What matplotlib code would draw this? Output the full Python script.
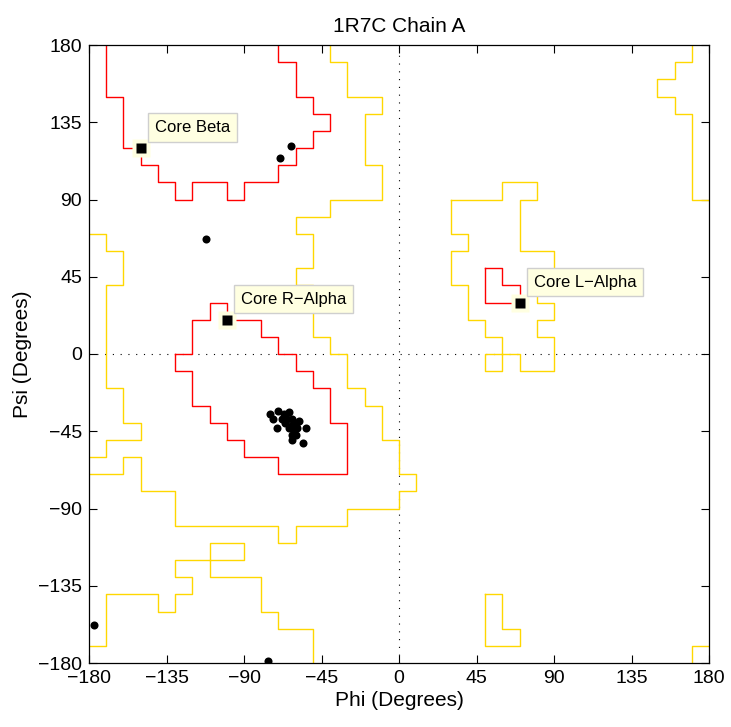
import matplotlib
matplotlib.use("Agg")
import matplotlib.pyplot as plt

plt.rcParams['font.family'] = ['Liberation Sans', 'DejaVu Sans']

# core (red) contours
core_beta_phi = [-170, -170, -160, -160, -150, -150, -140, -140, -130, -130, -120, -120, -100, -100, -90,
                 -90, -70, -70, -60, -60, -50, -50, -40, -40, -50, -50, -60, -60, -70, -70]
core_beta_psi = [180, 150, 150, 120, 120, 110, 110, 100, 100, 90, 90, 100, 100, 90, 90,
                 100, 100, 110, 110, 120, 120, 130, 130, 140, 140, 150, 150, 170, 170, 180]

core_ralpha_phi = [-130, -130, -120, -120, -110, -110, -100, -100, -90, -90, -70, -70, -30, -30, -40, -40,
                   -50, -50, -60, -60, -70, -70, -80, -80, -100, -100, -110, -110, -120, -120, -130]
core_ralpha_psi = [0, -10, -10, -30, -30, -40, -40, -50, -50, -60, -60, -70, -70, -40, -40, -20,
                   -20, -10, -10, 0, 0, 10, 10, 20, 20, 30, 30, 20, 20, 0, 0]

core_lalpha_phi = [50, 60, 60, 70, 70, 50, 50]
core_lalpha_psi = [50, 50, 40, 40, 30, 30, 50]

# allowed (yellow) contours
allowed_main_phi = [-40, -40, -30, -30, -10, -10, -20, -20, -10, -10, -40, -40, -60, -60, -50, -50, -60, -60,
                    -50, -50, -40, -40, -30, -30, -20, -20, -10, -10, 0, 0, 10, 10, 0, 0, -30, -30, -60, -60,
                    -70, -70, -130, -130, -150, -150, -160, -160, -180]
allowed_main_psi = [180, 170, 170, 150, 150, 140, 140, 110, 110, 90, 90, 80, 80, 70, 70, 50, 50, 40,
                    40, 10, 10, 0, 0, -20, -20, -30, -30, -50, -50, -70, -70, -80, -80, -90, -90, -100, -100, -110,
                    -110, -100, -100, -80, -80, -60, -60, -70, -70]

allowed_left_phi = [-180, -170, -170, -160, -160, -170, -170, -160, -160, -150, -150, -170, -170, -180]
allowed_left_psi = [70, 70, 60, 60, 40, 40, -20, -20, -40, -40, -50, -50, -60, -60]

allowed_bottom_phi = [-180, -170, -170, -140, -140, -130, -130, -120, -120, -130, -130, -90, -90, -110, -110,
                      -80, -80, -70, -70, -50, -50]
allowed_bottom_psi = [-170, -170, -140, -140, -150, -150, -140, -140, -130, -130, -120, -120, -110, -110, -130,
                      -130, -150, -150, -160, -160, -180]

allowed_lalpha_phi = [30, 30, 40, 40, 30, 30, 40, 40, 50, 50, 60, 60, 50, 50, 70, 70, 90, 90, 80, 80, 90, 90,
                      80, 80, 90, 90, 70, 70, 80, 80, 60, 60, 30]
allowed_lalpha_psi = [90, 70, 70, 60, 60, 40, 40, 20, 20, 10, 10, -10, -10, 0, 0, -10, -10, 10, 10, 20, 20, 30,
                      30, 40, 40, 60, 60, 90, 90, 100, 100, 90, 90]

allowed_topright_phi = [170, 170, 160, 160, 150, 150, 160, 160, 170, 170, 180]
allowed_topright_psi = [180, 170, 170, 160, 160, 150, 150, 140, 140, 90, 90]

allowed_botright_phi = [170, 170, 180]
allowed_botright_psi = [-180, -170, -170]

allowed_small_phi = [50, 60, 60, 70, 70, 50, 50]
allowed_small_psi = [-140, -140, -160, -160, -170, -170, -140]

# observed residues
obs_phi = [-63, -69, -112, -177, -76,
           -75, -70, -73, -71, -67, -64, -65, -62, -61, -58, -63, -61, -59, -64, -62, -56, -54, -66, -60,
           -62, -68, -60]
obs_psi = [121, 114, 67, -158, -179,
           -35, -33, -38, -43, -35, -34, -38, -38, -40, -39, -42, -44, -43, -43, -47, -52, -43, -40, -47,
           -50, -38, -42]

core_names = ['Core Beta', 'Core R\u2212Alpha', 'Core L\u2212Alpha']
core_phi = [-150, -100, 70]
core_psi = [120, 20, 30]

fig = plt.figure(figsize=(7.31, 7.27), dpi=100)
ax = fig.add_axes([89 / 731, 64 / 727, 620 / 731, 618 / 727])

red = '#FF0000'
yellow = '#FFD700'
for px, py in [(core_beta_phi, core_beta_psi), (core_ralpha_phi, core_ralpha_psi),
               (core_lalpha_phi, core_lalpha_psi)]:
    ax.plot(px, py, color=red, lw=1.0, zorder=2)
for px, py in [(allowed_main_phi, allowed_main_psi), (allowed_left_phi, allowed_left_psi),
               (allowed_bottom_phi, allowed_bottom_psi), (allowed_lalpha_phi, allowed_lalpha_psi),
               (allowed_topright_phi, allowed_topright_psi), (allowed_botright_phi, allowed_botright_psi),
               (allowed_small_phi, allowed_small_psi)]:
    ax.plot(px, py, color=yellow, lw=1.0, zorder=2)

ax.axhline(0, color='black', lw=0.8, linestyle=(0, (1, 6)), zorder=1)
ax.axvline(0, color='black', lw=0.8, linestyle=(0, (1, 6)), zorder=1)

ax.plot(obs_phi, obs_psi, 'o', color='black', markersize=5.8, mec='none', zorder=3)

ax.plot(core_phi, core_psi, 's', color='#FFFFE1', markersize=13, mec='none', zorder=4)
ax.plot(core_phi, core_psi, 's', color='black', markersize=7, mec='none', zorder=5)
for name, x, y in zip(core_names, core_phi, core_psi):
    ax.annotate(name, xy=(x, y), xytext=(14, 13), textcoords='offset pixels',
                ha='left', va='bottom', fontsize=12, zorder=6,
                bbox=dict(boxstyle='square,pad=0.4', fc='#FFFFE1', ec='#CFCFCF', lw=1))

ax.set_xlim(-180, 180)
ax.set_ylim(-180, 180)
ticks = [-180, -135, -90, -45, 0, 45, 90, 135, 180]
ax.set_xticks(ticks)
ax.set_yticks(ticks)
ax.tick_params(direction='in', top=True, right=True, length=6, width=0.8, labelsize=14, pad=5)
for s in ax.spines.values():
    s.set_linewidth(0.9)

ax.set_title('1R7C Chain A', fontsize=15, pad=9)
ax.set_xlabel('Phi (Degrees)', fontsize=15, labelpad=3)
ax.set_ylabel('Psi (Degrees)', fontsize=15, labelpad=4)

fig.savefig('out.png', dpi=100, facecolor='white')
